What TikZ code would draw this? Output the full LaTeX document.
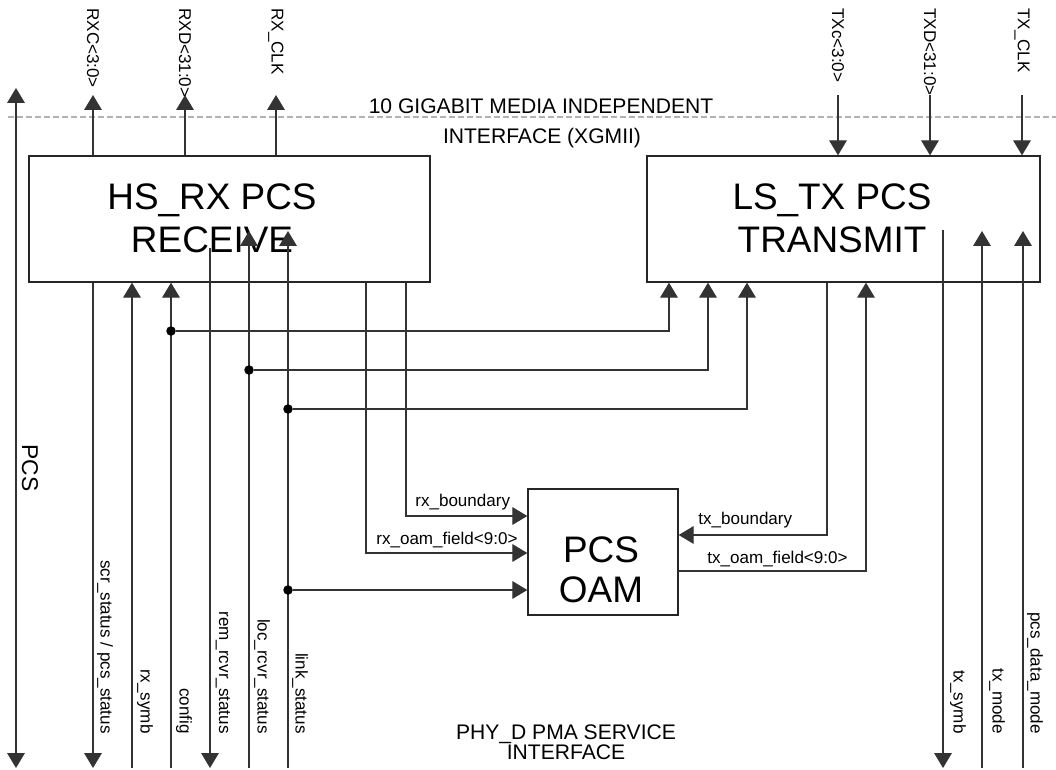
\documentclass[tikz,border=0pt]{standalone}
\usepackage{fontspec}
\setmainfont{Liberation Sans}
\usetikzlibrary{arrows.meta}
\newcommand{\bigtxt}{\fontsize{21pt}{24.5pt}\selectfont}
\newcommand{\oamtxt}{\fontsize{21pt}{23pt}\selectfont}
\newcommand{\midtxt}{\fontsize{12pt}{11.4pt}\selectfont}
\newcommand{\smalltxt}{\fontsize{9.7pt}{11pt}\selectfont}

\begin{document}
\begin{tikzpicture}[x=0.2mm, y=-0.2mm,
  >={Triangle[width=10pt,length=8.5pt]},
  wire/.style={line width=0.65pt, black!80},
  blockbox/.style={draw=black!85, line width=0.75pt, minimum height=25.2mm, inner sep=0pt},
  blocktext/.style={font=\bigtxt, align=center, inner sep=0pt},
  vlab/.style={font=\smalltxt, rotate=-90, inner sep=0pt},
  hlab/.style={font=\smalltxt, inner sep=0pt, anchor=base west},
  jdot/.style={fill=black, circle, inner sep=0pt, minimum size=1.9mm}]
\useasboundingbox (0,0) rectangle (1056,770);

% interface boundary
\draw[gray!60, line width=0.6pt, dash pattern=on 1.2mm off 0.6mm] (8,117) -- (1056,117);
\node[font=\midtxt, anchor=base] (xg1) at (541,113.5) {10 GIGABIT MEDIA INDEPENDENT};
\node[font=\midtxt, anchor=base] (xg2) at (542,143.5) {INTERFACE (XGMII)};
\node[font=\midtxt, align=center, inner sep=0pt] (pma) at (566,742) {PHY\_D PMA SERVICE\\INTERFACE};

% blocks
\node[blockbox, minimum width=80.2mm] (rx) at (229.5,219) {};
\node[blocktext] (rxt) at (212,218.5) {HS\_RX PCS\\RECEIVE};
\node[blockbox, minimum width=78.6mm] (tx) at (843.5,219) {};
\node[blocktext] (txt) at (832,218.5) {LS\_TX PCS\\TRANSMIT};
\node[blockbox, minimum width=30mm] (oam) at (603,552) {};
\node[blocktext, font=\oamtxt] (oamt) at (601,570) {PCS\\OAM};

% PCS extent
\coordinate (pcstop) at (16,88);
\coordinate (pcsbot) at (16,768);
\draw[wire,<->] (pcstop) -- (pcsbot);
\node[font=\fontsize{13pt}{13pt}\selectfont, rotate=-90] (pcsl) at (30,468) {PCS};

% XGMII signals
\foreach \xx/\lab [count=\i] in {93/RXC<3:0>, 185/RXD<31:0>, 276/RX\_CLK} {
  \coordinate (ro\i) at (\xx,95);
  \draw[wire,->] (ro\i |- rx.north) -- (ro\i);
  \node[vlab, anchor=west] (rol\i) at (\xx,8) {\lab};
}
\foreach \xx/\lab [count=\i] in {838/TXc<3:0>, 930/TXD<31:0>, 1022/TX\_CLK} {
  \coordinate (ti\i) at (\xx,95);
  \draw[wire,->] (ti\i) -- (ti\i |- tx.north);
  \node[vlab, anchor=west] (til\i) at (\xx,8) {\lab};
}

% PMA service signals
\coordinate (p0) at (93,768);
\node[vlab, anchor=east] (pl0) at (105,734) {scr\_status / pcs\_status};
\foreach \xx/\dx/\lab [count=\i] in {132/13/rx\_symb, 171/13/config, 210/13/rem\_rcvr\_status,
    249/13/loc\_rcvr\_status, 288/12/link\_status, 943/15/tx\_symb, 982/15/tx\_mode, 1023/12/pcs\_data\_mode} {
  \coordinate (p\i) at (\xx,768);
  \node[vlab, anchor=east] (pl\i) at (\xx+\dx,734) {\lab};
}
\draw[wire,->] (rx.south -| p0) -- (p0);
\draw[wire,->] (p1) -- (p1 |- rx.south);
\draw[wire,->] (p2) -- (p2 |- rx.south);
\coordinate (rr) at (210,248);
\draw[wire,->] (rr) -- (p3);
\coordinate (lr) at (249,231);
\draw[wire,->] (p4) -- (lr);
\coordinate (lk) at (288,231);
\draw[wire,->] (p5) -- (lk);
\coordinate (ts) at (943,230);
\draw[wire,->] (ts) -- (p6);
\coordinate (tm) at (982,231);
\draw[wire,->] (p7) -- (tm);
\coordinate (dm) at (1023,231);
\draw[wire,->] (p8) -- (dm);

% status taps to transmit and OAM
\node[jdot] (j1) at (171,331) {};
\node[jdot] (j2) at (249,370) {};
\node[jdot] (j3) at (288,409) {};
\node[jdot] (j4) at (288,590) {};
\coordinate (k1) at (669,331);
\coordinate (k2) at (708,370);
\coordinate (k3) at (747,409);
\draw[wire,->] (j1) -- (k1) -- (k1 |- tx.south);
\draw[wire,->] (j2) -- (k2) -- (k2 |- tx.south);
\draw[wire,->] (j3) -- (k3) -- (k3 |- tx.south);
\draw[wire,->] (j4) -- (j4 -| oam.west);

% OAM fields
\coordinate (rb) at (406,516);
\draw[wire,->] (rx.south -| rb) -- (rb) -- (rb -| oam.west);
\node[hlab] (rbl) at (415,506) {rx\_boundary};
\coordinate (rf) at (366,553);
\draw[wire,->] (rx.south -| rf) -- (rf) -- (rf -| oam.west);
\node[hlab] (rfl) at (376,544) {rx\_oam\_field<9:0>};
\coordinate (tb) at (827,535);
\draw[wire,->] (tx.south -| tb) -- (tb) -- (tb -| oam.east);
\node[hlab] (tbl) at (698,524) {tx\_boundary};
\coordinate (tf) at (866,571);
\draw[wire,->] (tf -| oam.east) -- (tf) -- (tf |- tx.south);
\node[hlab] (tfl) at (707,563) {tx\_oam\_field<9:0>};
\end{tikzpicture}
\end{document}
